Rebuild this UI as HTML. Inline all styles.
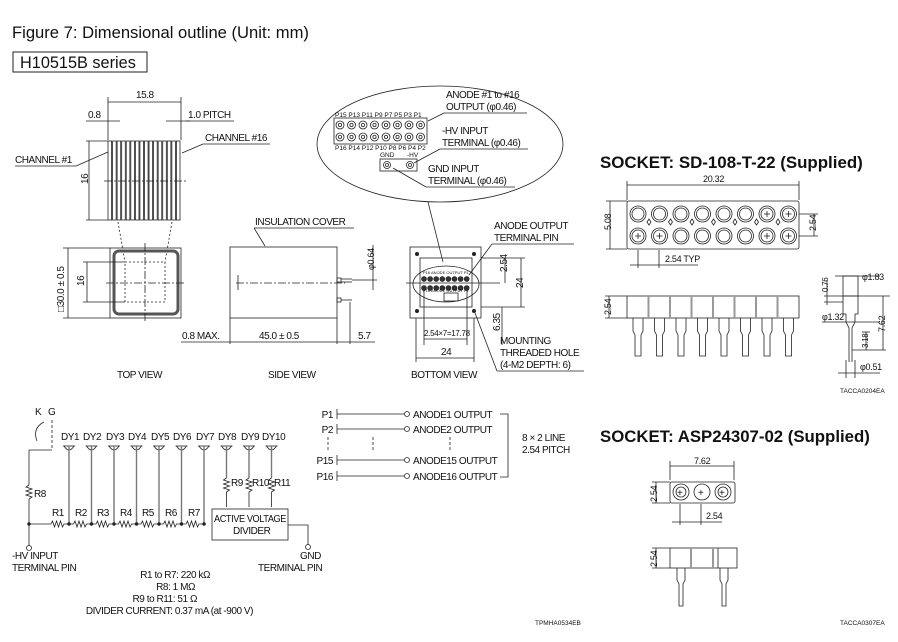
<!DOCTYPE html>
<html><head><meta charset="utf-8"><style>
html,body{margin:0;padding:0;background:#fff;}
svg{display:block;font-family:"Liberation Sans",Arial,sans-serif;}
text{fill:#111;}
.s{font-size:10px;letter-spacing:-0.45px;}
.t{font-size:9px;letter-spacing:-0.3px;}
.xs{font-size:7px;}
</style></head><body>
<svg id="g" width="898" height="642" viewBox="0 0 898 642" xmlns="http://www.w3.org/2000/svg" stroke="#222" fill="none" stroke-width="0.8">
<text x="12" y="38" style="font-size:16.6px" stroke="none">Figure 7: Dimensional outline (Unit: mm)</text>
<rect x="13" y="52" width="134" height="20" stroke-width="1"/>
<text x="20" y="68" style="font-size:16.3px" stroke="none">H10515B series</text>

<!-- TOP VIEW strips -->
<g id="strips"></g>
<line x1="108" y1="97" x2="108" y2="140"/><line x1="181" y1="97" x2="181" y2="140"/>
<line x1="108" y1="102" x2="181" y2="102"/>
<text x="136" y="98" class="s" stroke="none">15.8</text>
<text x="88" y="118" class="s" stroke="none">0.8</text><line x1="86" y1="121" x2="120" y2="121"/>
<line x1="166" y1="121" x2="190" y2="121"/>
<text x="188" y="118" class="s" stroke="none">1.0 PITCH</text><line x1="186" y1="121" x2="234" y2="121"/>
<text x="205" y="141" class="s" stroke="none">CHANNEL #16</text><line x1="203" y1="144" x2="270" y2="144"/><line x1="203" y1="144" x2="182" y2="153"/>
<text x="15" y="163" class="s" stroke="none">CHANNEL #1</text><line x1="15" y1="166" x2="76" y2="166"/><line x1="76" y1="166" x2="108" y2="152"/>
<line x1="86" y1="141" x2="108" y2="141"/><line x1="86" y1="220" x2="108" y2="220"/><line x1="89" y1="141" x2="89" y2="220"/>
<text x="88" y="184" class="s" stroke="none" transform="rotate(-90 88 184)">16</text>
<line x1="118" y1="222" x2="125" y2="262" stroke-dasharray="2 2"/><line x1="172" y1="222" x2="165" y2="262" stroke-dasharray="2 2"/>
<rect x="110" y="248" width="71" height="70"/>
<rect x="114" y="251" width="64" height="63" rx="5" stroke-width="3" stroke="#555"/>
<rect x="125" y="262" width="40" height="40" stroke-dasharray="2 2"/>
<line x1="106" y1="283" x2="186" y2="283" stroke-dasharray="8 2 2 2"/><line x1="145" y1="243" x2="145" y2="323" stroke-dasharray="8 2 2 2"/>
<line x1="83" y1="262" x2="125" y2="262"/><line x1="83" y1="302" x2="125" y2="302"/><line x1="87" y1="262" x2="87" y2="302"/>
<text x="84" y="286" class="s" stroke="none" transform="rotate(-90 84 286)">16</text>
<line x1="63" y1="248" x2="110" y2="248"/><line x1="63" y1="318" x2="110" y2="318"/><line x1="68" y1="248" x2="68" y2="318"/>
<text x="64" y="312" class="s" stroke="none" transform="rotate(-90 64 312)">□30.0 ± 0.5</text>
<text x="117" y="378" class="s" stroke="none">TOP VIEW</text>

<!-- SIDE VIEW -->
<rect x="230" y="247" width="107" height="71"/>
<line x1="236" y1="283" x2="345" y2="283" stroke-dasharray="8 2 2 2"/><line x1="238" y1="275" x2="238" y2="290"/>
<rect x="337" y="278" width="4" height="4"/><rect x="337" y="298" width="4" height="4"/>
<line x1="341" y1="279" x2="352" y2="279"/><line x1="341" y1="282" x2="352" y2="282"/><line x1="341" y1="300" x2="352" y2="300"/><line x1="352" y1="280" x2="377" y2="280"/>
<line x1="350" y1="302" x2="350" y2="344"/><line x1="337" y1="318" x2="337" y2="344"/><line x1="230" y1="318" x2="230" y2="344"/>
<line x1="181" y1="342" x2="375" y2="342"/>
<text x="182" y="339" class="s" stroke="none">0.8 MAX.</text>
<text x="259" y="339" class="s" stroke="none">45.0 ± 0.5</text>
<text x="358" y="339" class="s" stroke="none">5.7</text>
<text x="255" y="225" class="s" stroke="none">INSULATION COVER</text><line x1="254" y1="228" x2="354" y2="228"/><line x1="254" y1="228" x2="265" y2="246"/>
<text x="374" y="270" class="t" stroke="none" transform="rotate(-90 374 270)">φ0.64</text>
<line x1="373" y1="245" x2="373" y2="290"/>
<text x="268" y="378" class="s" stroke="none">SIDE VIEW</text>

<!-- BOTTOM VIEW -->
<rect x="410" y="247" width="71" height="71"/>
<rect x="420" y="258" width="52" height="49"/>
<ellipse cx="446" cy="284" rx="33" ry="18"/>
<g fill="#222" stroke="none"><circle cx="417" cy="254" r="2"/><circle cx="474" cy="254" r="2"/><circle cx="417" cy="311" r="2"/><circle cx="474" cy="311" r="2"/></g>
<g id="bpins"></g>
<line x1="406" y1="283" x2="500" y2="283"/>
<text x="423" y="274" class="xs" stroke="none" style="font-size:4px">P16 ANODE OUTPUT P1</text>
<text x="423" y="292" class="xs" stroke="none" style="font-size:4px">P16 ANODE OUTPUT P2</text>
<rect x="444" y="293" width="14" height="8"/>
<line x1="481" y1="258" x2="525" y2="258"/><line x1="481" y1="307" x2="525" y2="307"/><line x1="521" y1="258" x2="521" y2="307"/>
<text x="523" y="288" class="s" stroke="none" transform="rotate(-90 523 288)">24</text>
<line x1="505" y1="258" x2="505" y2="283"/>
<text x="507" y="272" class="s" stroke="none" transform="rotate(-90 507 272)">2.54</text>
<line x1="502" y1="307" x2="502" y2="345"/>
<text x="500" y="331" class="s" stroke="none" transform="rotate(-90 500 331)">6.35</text>
<line x1="424" y1="290" x2="424" y2="345"/><line x1="467" y1="290" x2="467" y2="345"/><line x1="424" y1="339" x2="467" y2="339"/>
<text x="424" y="336" class="t" stroke="none" style="font-size:8px">2.54×7=17.78</text>
<line x1="416" y1="318" x2="416" y2="362"/><line x1="474" y1="318" x2="474" y2="362"/><line x1="416" y1="358" x2="474" y2="358"/>
<text x="441" y="355" class="s" stroke="none">24</text>
<text x="411" y="378" class="s" stroke="none">BOTTOM VIEW</text>
<text x="494" y="229" class="s" stroke="none">ANODE OUTPUT</text>
<text x="494" y="241" class="s" stroke="none">TERMINAL PIN</text><line x1="492" y1="244" x2="574" y2="244"/><line x1="492" y1="244" x2="469" y2="275"/>
<text x="500" y="344" class="s" stroke="none">MOUNTING</text>
<text x="500" y="356" class="s" stroke="none">THREADED HOLE</text>
<text x="500" y="368" class="s" stroke="none">(4-M2 DEPTH: 6)</text><line x1="497" y1="371" x2="584" y2="371"/><line x1="497" y1="371" x2="475" y2="313"/>

<!-- big ellipse -->
<ellipse cx="440" cy="144" rx="123" ry="58"/>
<line x1="428" y1="202" x2="443" y2="262"/>
<rect x="334" y="118" width="93" height="26"/>
<g id="gpins"></g>
<text x="335" y="117" class="xs" stroke="none" style="font-size:6.5px">P15 P13 P11 P9 P7 P5 P3 P1</text>
<text x="335" y="150" class="xs" stroke="none" style="font-size:6.5px">P16 P14 P12 P10 P8 P6 P4 P2</text>
<text x="380" y="157" class="xs" stroke="none" style="font-size:6.5px">GND</text><text x="407" y="157" class="xs" stroke="none" style="font-size:6.5px">-HV</text>
<rect x="380" y="159" width="37" height="12"/>
<circle cx="387" cy="165" r="3.5"/><circle cx="387" cy="165" r="1.5"/><circle cx="410" cy="165" r="3.5"/><circle cx="410" cy="165" r="1.5"/>
<text x="446" y="98" class="s" stroke="none">ANODE #1 to #16</text>
<text x="446" y="110" class="s" stroke="none">OUTPUT (φ0.46)</text><line x1="444" y1="113" x2="527" y2="113"/><line x1="444" y1="113" x2="428" y2="121"/>
<text x="442" y="134" class="s" stroke="none">-HV INPUT</text>
<text x="442" y="146" class="s" stroke="none">TERMINAL (φ0.46)</text><line x1="440" y1="149" x2="528" y2="149"/><line x1="440" y1="149" x2="414" y2="163"/>
<text x="428" y="172" class="s" stroke="none">GND INPUT</text>
<text x="428" y="184" class="s" stroke="none">TERMINAL (φ0.46)</text><line x1="426" y1="187" x2="515" y2="187"/><line x1="426" y1="187" x2="393" y2="168"/>

<!-- SOCKET SD-108 -->
<text x="600" y="168" stroke="none" style="font-size:16.9px;font-weight:bold">SOCKET: SD-108-T-22 (Supplied)</text>
<line x1="627" y1="181" x2="627" y2="200"/><line x1="799" y1="181" x2="799" y2="200"/><line x1="627" y1="185" x2="799" y2="185"/>
<text x="703" y="182" class="t" stroke="none">20.32</text>
<rect x="627" y="201" width="172" height="48" rx="2"/>
<g id="sock"></g>
<line x1="606" y1="201" x2="627" y2="201"/><line x1="606" y1="249" x2="627" y2="249"/><line x1="610" y1="201" x2="610" y2="249"/>
<text x="611" y="230" class="t" stroke="none" transform="rotate(-90 611 230)">5.08</text>
<line x1="799" y1="214" x2="818" y2="214"/><line x1="799" y1="236" x2="818" y2="236"/><line x1="814" y1="214" x2="814" y2="236"/>
<text x="816" y="231" class="t" stroke="none" transform="rotate(-90 816 231)">2.54</text>
<line x1="638" y1="250" x2="638" y2="268"/><line x1="659" y1="250" x2="659" y2="268"/><line x1="630" y1="265" x2="698" y2="265"/>
<text x="665" y="262" class="t" stroke="none">2.54 TYP</text>
<rect x="627" y="296" width="172" height="22"/>
<g id="sside"></g>
<line x1="605" y1="296" x2="627" y2="296"/><line x1="605" y1="318" x2="627" y2="318"/><line x1="609" y1="296" x2="609" y2="318"/>
<text x="611" y="315" class="t" stroke="none" transform="rotate(-90 611 315)">2.54</text>
<!-- pin detail -->
<rect x="843" y="276" width="15" height="20"/>
<path d="M843 296 v18 h3 v8 l3 6 v34 M858 296 v18 h-3 v8 l-3 6 v34"/>
<line x1="824" y1="296" x2="890" y2="296"/><line x1="824" y1="302" x2="843" y2="302"/>
<line x1="827" y1="280" x2="827" y2="305"/>
<text x="828" y="292" class="t" stroke="none" transform="rotate(-90 828 292)" style="font-size:8px">0.76</text>
<line x1="835" y1="276" x2="880" y2="276"/>
<text x="862" y="280" class="t" stroke="none">φ1.83</text>
<line x1="822" y1="322" x2="880" y2="322"/><text x="822" y="320" class="t" stroke="none">φ1.32</text>
<line x1="883" y1="296" x2="883" y2="350"/><line x1="852" y1="350" x2="886" y2="350"/>
<text x="885" y="332" class="t" stroke="none" transform="rotate(-90 885 332)">7.62</text>
<line x1="862" y1="332" x2="870" y2="332"/><line x1="866" y1="332" x2="866" y2="350"/>
<text x="868" y="348" class="t" stroke="none" transform="rotate(-90 868 348)" style="font-size:8px">3.18</text>
<line x1="846" y1="360" x2="846" y2="378"/><line x1="855" y1="360" x2="855" y2="378"/><line x1="838" y1="373" x2="880" y2="373"/>
<text x="860" y="370" class="t" stroke="none">φ0.51</text>
<text x="840" y="393" stroke="none" style="font-size:6.5px">TACCA0204EA</text>

<!-- SOCKET ASP -->
<text x="600" y="442" stroke="none" style="font-size:16.8px;font-weight:bold">SOCKET: ASP24307-02 (Supplied)</text>
<line x1="670" y1="461" x2="670" y2="480"/><line x1="734" y1="461" x2="734" y2="480"/><line x1="670" y1="466" x2="734" y2="466"/>
<text x="694" y="464" class="t" stroke="none">7.62</text>
<rect x="670" y="482" width="65" height="21" rx="2"/>
<circle cx="681" cy="492" r="8"/><circle cx="681" cy="492" r="5"/><circle cx="702" cy="492" r="8"/><circle cx="723" cy="492" r="8"/><circle cx="723" cy="492" r="5"/>
<text x="677" y="496" class="s" stroke="none">+</text><text x="698" y="496" class="s" stroke="none">+</text><text x="719" y="496" class="s" stroke="none">+</text>
<line x1="652" y1="482" x2="670" y2="482"/><line x1="652" y1="503" x2="670" y2="503"/><line x1="656" y1="482" x2="656" y2="503"/>
<text x="657" y="502" class="t" stroke="none" transform="rotate(-90 657 502)">2.54</text>
<line x1="680" y1="504" x2="680" y2="525"/><line x1="701" y1="504" x2="701" y2="525"/><line x1="672" y1="522" x2="722" y2="522"/>
<text x="706" y="519" class="t" stroke="none">2.54</text>
<rect x="670" y="548" width="67" height="20"/>
<line x1="691" y1="548" x2="691" y2="568" stroke-width="2" stroke="#999"/><line x1="713" y1="548" x2="713" y2="568" stroke-width="2" stroke="#999"/><line x1="718" y1="548" x2="718" y2="568"/>
<path d="M677 568 v12 l2 4 v22 h4 v-22 l2 -4 v-12 M720 568 v12 l2 4 v22 h4 v-22 l2 -4 v-12"/>
<line x1="652" y1="548" x2="670" y2="548"/><line x1="652" y1="568" x2="670" y2="568"/><line x1="656" y1="548" x2="656" y2="568"/>
<text x="657" y="567" class="t" stroke="none" transform="rotate(-90 657 567)">2.54</text>
<text x="840" y="625" stroke="none" style="font-size:6.5px">TACCA0307EA</text>

<!-- CIRCUIT -->
<text x="35" y="415" class="s" stroke="none">K</text><text x="48" y="415" class="s" stroke="none">G</text>
<path d="M44 422 q-12 6 -7 19"/>
<line x1="52" y1="420" x2="52" y2="450" stroke-dasharray="3 2"/>
<line x1="29" y1="450" x2="52" y2="450"/>
<line x1="29" y1="450" x2="29" y2="485"/>
<path d="M29 485 l-3 2 l6 2 l-6 2 l6 2 l-6 2 l6 2 l-3 2"/>
<line x1="29" y1="499" x2="29" y2="546"/>
<text x="34" y="497" class="s" stroke="none">R8</text>
<circle cx="29" cy="548" r="2.5"/>
<g id="circ"></g>
<text x="61" y="440" class="s" stroke="none">DY1</text><text x="83" y="440" class="s" stroke="none">DY2</text><text x="106" y="440" class="s" stroke="none">DY3</text><text x="128" y="440" class="s" stroke="none">DY4</text><text x="151" y="440" class="s" stroke="none">DY5</text><text x="173" y="440" class="s" stroke="none">DY6</text><text x="196" y="440" class="s" stroke="none">DY7</text><text x="218" y="440" class="s" stroke="none">DY8</text><text x="241" y="440" class="s" stroke="none">DY9</text><text x="262" y="440" class="s" stroke="none">DY10</text>
<text x="52" y="516" class="s" stroke="none">R1</text><text x="75" y="516" class="s" stroke="none">R2</text><text x="97" y="516" class="s" stroke="none">R3</text><text x="120" y="516" class="s" stroke="none">R4</text><text x="142" y="516" class="s" stroke="none">R5</text><text x="165" y="516" class="s" stroke="none">R6</text><text x="188" y="516" class="s" stroke="none">R7</text>
<text x="231" y="486" class="s" stroke="none">R9</text><text x="252" y="486" class="s" stroke="none">R10</text><text x="274" y="486" class="s" stroke="none">R11</text>
<rect x="212" y="509" width="76" height="31"/>
<text x="214" y="522" class="s" stroke="none" textLength="72" lengthAdjust="spacingAndGlyphs">ACTIVE VOLTAGE</text>
<text x="233" y="534" class="s" stroke="none">DIVIDER</text>
<path d="M288 525 h20 v20"/><circle cx="308" cy="547" r="2.5"/>
<text x="12" y="559" class="s" stroke="none">-HV INPUT</text><text x="12" y="571" class="s" stroke="none">TERMINAL PIN</text>
<text x="300" y="559" class="s" stroke="none">GND</text><text x="258" y="571" class="s" stroke="none">TERMINAL PIN</text>
<text x="210" y="578" class="s" stroke="none" text-anchor="end">R1 to R7: 220 kΩ</text>
<text x="195" y="590" class="s" stroke="none" text-anchor="end">R8: 1 MΩ</text>
<text x="197" y="602" class="s" stroke="none" text-anchor="end">R9 to R11: 51 Ω</text>
<text x="253" y="614" class="s" stroke="none" text-anchor="end">DIVIDER CURRENT: 0.37 mA (at -900 V)</text>

<!-- anode outputs -->
<text x="333" y="418" class="s" stroke="none" text-anchor="end">P1</text>
<text x="333" y="433" class="s" stroke="none" text-anchor="end">P2</text>
<text x="333" y="464" class="s" stroke="none" text-anchor="end">P15</text>
<text x="333" y="480" class="s" stroke="none" text-anchor="end">P16</text>
<g id="aout"></g>
<text x="413" y="418" class="s" stroke="none">ANODE1 OUTPUT</text>
<text x="413" y="433" class="s" stroke="none">ANODE2 OUTPUT</text>
<text x="413" y="464" class="s" stroke="none">ANODE15 OUTPUT</text>
<text x="413" y="480" class="s" stroke="none">ANODE16 OUTPUT</text>
<line x1="328" y1="437" x2="328" y2="452" stroke-dasharray="3 2"/><line x1="373" y1="437" x2="373" y2="452" stroke-dasharray="3 2"/><line x1="450" y1="437" x2="450" y2="452" stroke-dasharray="3 2"/>
<path d="M500 414 h8 v63 h-8"/>
<text x="522" y="441" class="s" stroke="none">8 × 2 LINE</text>
<text x="522" y="453" class="s" stroke="none">2.54 PITCH</text>
<text x="535" y="625" stroke="none" style="font-size:6.5px">TPMHA0534EB</text>
</svg>
<script>
var NS="http://www.w3.org/2000/svg";
function el(p,t,a){var e=document.createElementNS(NS,t);for(var k in a)e.setAttribute(k,a[k]);document.getElementById(p).appendChild(e);return e;}
for(var i=0;i<16;i++){el("strips","rect",{x:108+i*4.56,y:141,width:3.6,height:79});}
el("strips","line",{x1:104,y1:181,x2:186,y2:181,"stroke-dasharray":"8 2 2 2"});
for(var i=0;i<8;i++){for(var r=0;r<2;r++){var x=340+i*11.5,y=125+r*12;el("gpins","circle",{cx:x,cy:y,r:4});el("gpins","circle",{cx:x,cy:y,r:1.6});}}
for(var i=0;i<8;i++){for(var r=0;r<2;r++){el("bpins","circle",{cx:424+i*6.1,cy:279+r*9,r:2.4,fill:"#333"});}}
for(var i=0;i<8;i++){for(var r=0;r<2;r++){var x=638+i*21.5,y=214+r*22;el("sock","circle",{cx:x,cy:y,r:8});el("sock","circle",{cx:x,cy:y,r:6});
 if((r==0&&i>=6)||(r==1&&(i<2||i>=6))){el("sock","line",{x1:x-3,y1:y,x2:x+3,y2:y});el("sock","line",{x1:x,y1:y-3,x2:x,y2:y+3});}}
 if(i<7){el("sock","path",{d:"M"+(649+i*21.5)+" 225 l-2 -3 l2 -3 l2 3 z"});}
 var x=638+i*21.5;
 if(i>0)el("sside","line",{x1:627+i*21.5,y1:296,x2:627+i*21.5,y2:318,"stroke-width":2,stroke:"#999"});
 el("sside","path",{d:"M"+(x-5)+" 318 v13 l2 4 v21 h6 v-21 l2 -4 v-13"});}
for(var i=0;i<10;i++){var x=69+i*22.5;el("circ","path",{d:"M"+(x-5)+" 446 q5 8 10 0"});el("circ","line",{x1:x-6,y1:446,x2:x+6,y2:446});
 if(i<7){el("circ","line",{x1:x,y1:446,x2:x,y2:524,stroke:"#777","stroke-width":1.4});el("circ","circle",{cx:x,cy:524,r:1.3,fill:"#222"});}
 else{el("circ","line",{x1:x,y1:446,x2:x,y2:478,stroke:"#777","stroke-width":1.4});el("circ","path",{d:"M"+x+" 478 l-3 2 l6 2 l-6 2 l6 2 l-6 2 l6 2 l-3 2 v15"});}}
el("circ","line",{x1:29,y1:524,x2:48,y2:524});
for(var i=0;i<7;i++){var x=48+i*22.5;el("circ","path",{d:"M"+x+" 524 h3 l1.5 -3 l2 6 l2 -6 l2 6 l2 -6 l2 6 l1.5 -3 h"+(i==6?"7":"5")});}
el("circ","circle",{cx:29,cy:524,r:1.3,fill:"#222"});
var ys=[414,429,460,476];
ys.forEach(function(y){el("aout","line",{x1:337,y1:y-5,x2:337,y2:y+5});el("aout","line",{x1:337,y1:y,x2:404,y2:y});el("aout","circle",{cx:407,cy:y,r:2.5});});
</script>
</body></html>
